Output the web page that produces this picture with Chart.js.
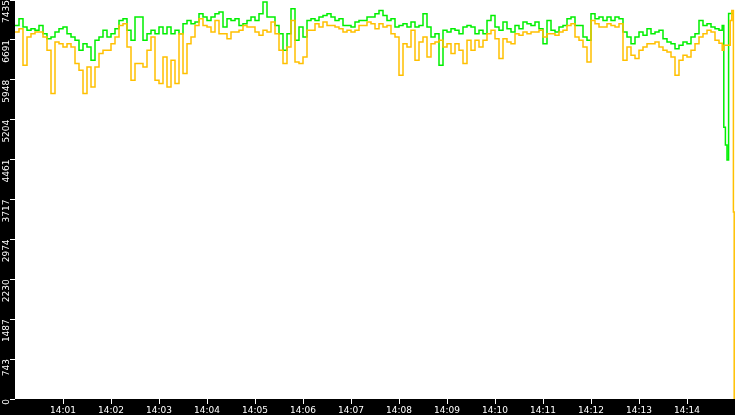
<!DOCTYPE html>
<html>
<head>
<meta charset="utf-8">
<script src="https://cdn.jsdelivr.net/npm/chart.js@4.4.1/dist/chart.umd.min.js"></script>
<style>
  html, body { margin: 0; padding: 0; background: #000; }
  #wrap { width: 735px; height: 415px; }
</style>
</head>
<body>
<div id="wrap"><canvas id="chart"></canvas></div>
<script>
// readings every 5 s from 14:00:00, then a few uneven ones in the last 20 s
const step = 5;

const green = [
  6962,7086,6931,6869,6900,6869,6962,6807,6714,6745,6840,6900,6931,6807,6745,6683,6497,6621,6559,6312,6683,6745,6869,6745,6807,6900,7055,7086,6869,6683,
  7117,7117,6683,6807,6869,6807,6931,6807,6931,6807,6869,6807,6993,7055,6993,7024,7179,7117,7055,7117,7179,7210,6931,7086,7055,7086,6962,6993,7055,7117,
  7055,7179,7396,7117,7117,6962,6807,6497,6807,7272,6683,6931,6745,7055,7086,7055,7117,7148,7179,7117,7055,7086,6962,6962,6931,7024,7055,7055,7117,7117,
  7179,7241,7148,7055,7086,6931,6962,6993,6931,7024,6931,6962,7179,6931,6745,6807,6219,6869,6840,6900,6869,6807,6931,6962,6931,6807,6869,6807,7055,7148,
  6931,6869,7024,6900,6840,6962,6900,7024,6993,6962,7024,6900,6621,7055,6869,6840,6931,6962,7086,7117,6962,6962,6745,6683,7179,7086,7117,7055,7117,7055,
  7117,7086,6840,6745,6621,6745,6840,6776,6900,6807,6840,6869,6714,6652,6621,6528,6590,6652,6621,6745,6807,7055,6962,6993,6931,6900
];

const orange = [
  6840,6900,6219,6745,6807,6840,6840,6745,6497,5692,6652,6621,6559,6621,6559,6250,6126,5692,6188,5816,6188,6436,6497,6497,6621,6745,6962,6993,6559,5940,
  6250,6250,6188,6497,6745,5940,5878,6374,5816,6312,5878,6807,6064,6621,6745,6962,7086,6962,6931,6840,7055,6807,6807,6714,6840,6840,6869,6962,6931,6931,
  6840,6776,6869,6840,7024,6807,6497,6250,6559,7055,6281,6250,6374,6869,6869,6993,6931,7024,6962,6962,6931,6900,6840,6869,6840,6869,6962,6962,7024,6993,
  6900,6993,6931,6962,6807,6745,6033,6621,6559,6869,6312,6652,6745,6374,6621,6652,6683,6559,6621,6436,6621,6497,6250,6683,6497,6683,6559,6683,6807,6869,
  6714,6343,6714,6652,6621,6807,6776,6840,6807,6840,6840,6869,6745,6807,6807,6776,6840,6869,6962,6993,6745,6683,6559,6281,7055,6993,6931,6931,6993,6962,
  6931,6993,6312,6559,6404,6343,6497,6559,6621,6621,6652,6559,6497,6466,6374,6033,6312,6404,6374,6497,6621,6745,6807,6869,6840,6683
];

const tailSeconds = [880, 884, 886, 888, 890, 892, 894, 896, 898, 899, 900];
const greenTail  = [6869, 6962, 5066, 4731, 4453, 7185, 7185, 7185, 7185, null, null];
const orangeTail = [6628, 6497, 6590, 6590, 6590, 6590, 7055, 7241, 3486, 0, 0];

const minuteTicks = [60, 120, 180, 240, 300, 360, 420, 480, 540, 600, 660, 720, 780, 840];
const minuteLabels = ['14:01','14:02','14:03','14:04','14:05','14:06','14:07','14:08','14:09','14:10','14:11','14:12','14:13','14:14'];

const yTicks = [0, 743.5, 1487, 2230.5, 2974, 3717.5, 4461, 5204.5, 5948, 6691.5, 7435];
const yLabels = ['0','743','1487','2230','2974','3717','4461','5204','5948','6691','7435'];

function points(main, tail) {
  const pts = main.map((v, i) => ({ x: i * step, y: v }));
  tailSeconds.forEach((s, i) => pts.push({ x: s, y: tail[i] }));
  return pts;
}

const backdrop = {
  id: 'backdrop',
  beforeDraw(chart) {
    const { ctx, chartArea: a, width, height } = chart;
    ctx.save();
    ctx.fillStyle = '#000';
    ctx.fillRect(0, 0, width, height);
    ctx.fillStyle = '#fff';
    ctx.fillRect(a.left, a.top, a.right - a.left, a.bottom - a.top);
    ctx.restore();
  }
};

const tickFont = { family: 'DejaVu Sans', size: 9 };

new Chart(document.getElementById('chart'), {
  type: 'line',
  data: {
    datasets: [
      {
        data: points(green, greenTail),
        borderColor: '#00f000',
        borderWidth: 1.5,
        stepped: true,
        pointRadius: 0,
        order: 2
      },
      {
        data: points(orange, orangeTail),
        borderColor: '#ffc000',
        borderWidth: 1.5,
        stepped: true,
        pointRadius: 0,
        order: 1
      }
    ]
  },
  options: {
    responsive: true,
    maintainAspectRatio: false,
    animation: false,
    layout: { padding: 0 },
    plugins: { legend: { display: false }, tooltip: { enabled: false } },
    scales: {
      x: {
        type: 'linear',
        min: 0,
        max: 900,
        afterBuildTicks: s => { s.ticks = minuteTicks.map(v => ({ value: v })); },
        afterFit: s => { s.height = 16; s.paddingLeft = 0; s.paddingRight = 0; },
        ticks: {
          color: '#fff',
          font: tickFont,
          padding: 1,
          maxRotation: 0,
          autoSkip: false,
          callback: (v, i) => minuteLabels[i]
        },
        grid: { drawOnChartArea: false, color: '#fff', tickLength: 5 },
        border: { display: false }
      },
      y: {
        min: 0,
        max: 7435,
        afterBuildTicks: s => { s.ticks = yTicks.map(v => ({ value: v })); },
        afterFit: s => { s.width = 15; s.paddingTop = 0; s.paddingBottom = 0; },
        ticks: {
          color: '#fff',
          font: tickFont,
          padding: 3,
          minRotation: 90,
          maxRotation: 90,
          autoSkip: false,
          callback: (v, i) => yLabels[i]
        },
        grid: { drawOnChartArea: false, color: '#fff', tickLength: 5 },
        border: { display: false }
      }
    }
  },
  plugins: [backdrop]
});
</script>
</body>
</html>
